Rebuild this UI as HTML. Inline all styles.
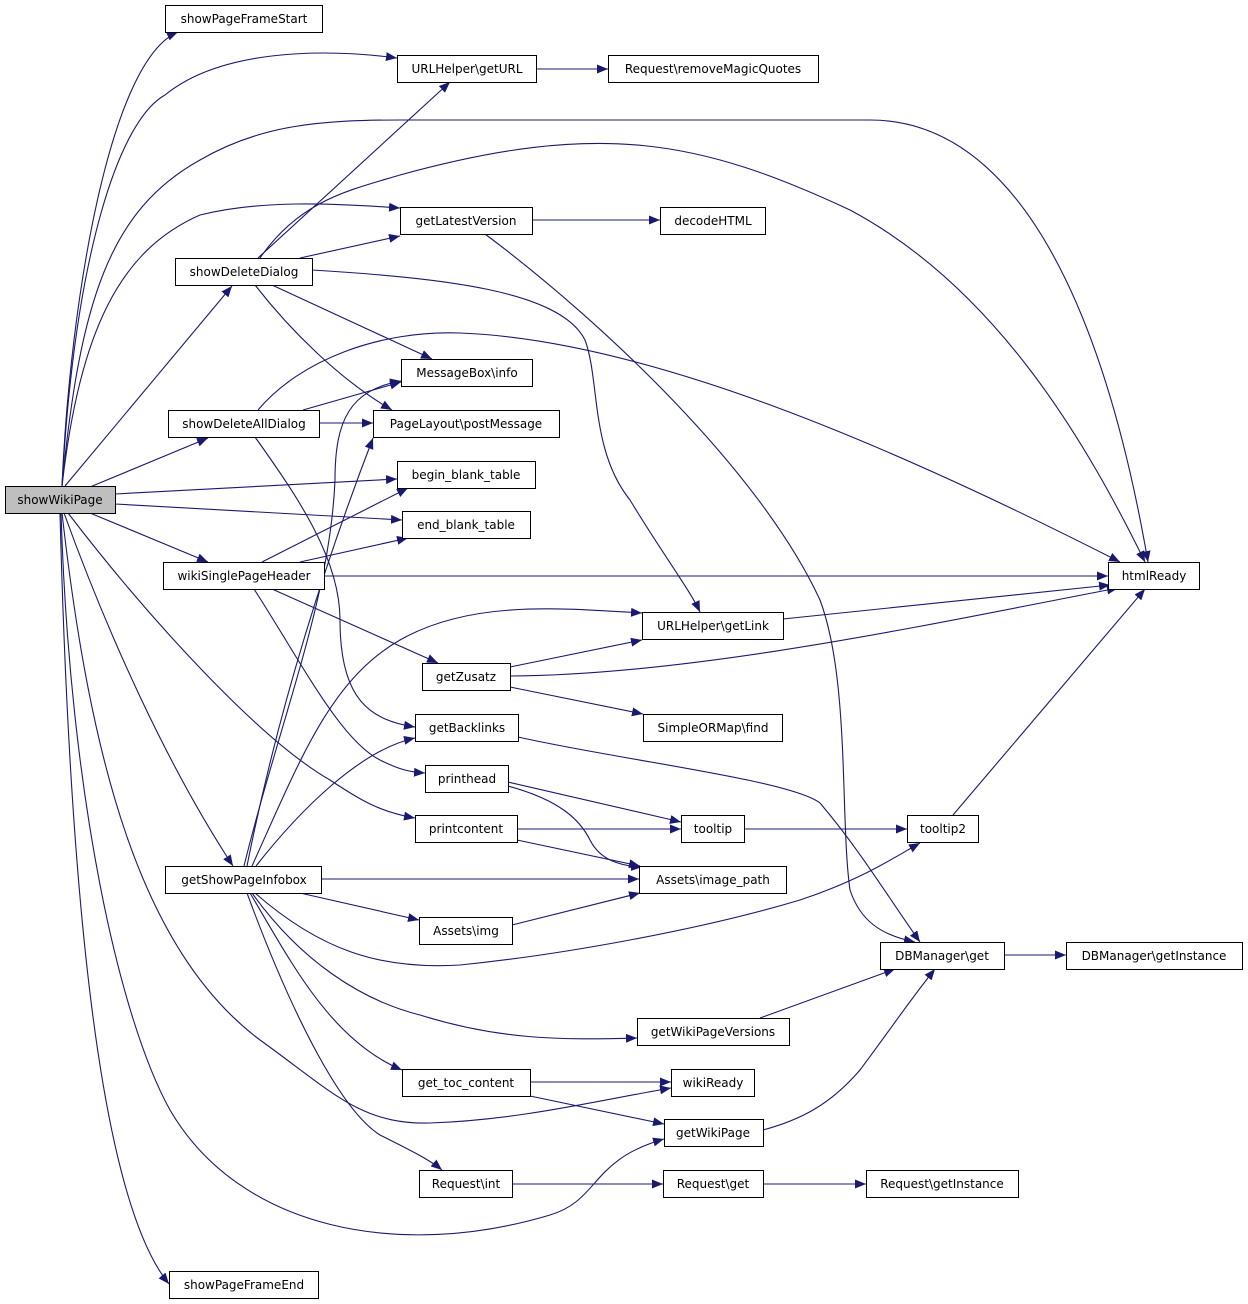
<!DOCTYPE html>
<html><head><meta charset="utf-8"><style>
html,body{margin:0;padding:0;background:#fff;}
svg{display:block;}
text{font-family:"DejaVu Sans","Liberation Sans",sans-serif;font-size:12px;fill:#000;}
.e{fill:none;stroke:#191970;stroke-width:1.1;marker-end:url(#a);}
.n{fill:#fff;stroke:#000;stroke-width:1;}
</style></head><body>
<svg width="1248" height="1304" viewBox="0 0 1248 1304" xmlns="http://www.w3.org/2000/svg">
<defs><marker id="a" markerUnits="userSpaceOnUse" markerWidth="12" markerHeight="9" refX="11" refY="4.5" orient="auto"><polygon points="0,0 11,4.5 0,9" fill="#191970"/></marker></defs>
<g>
<path class="e" d="M62,486 C70,300 110,60 178,32"/>
<path class="e" d="M62,486 C75,250 120,120 165,95 C220,50 320,48 397,58"/>
<path class="e" d="M62,486 C80,300 110,210 200,160 C260,125 320,120 400,120 L870,120 C1050,120 1120,400 1148,562"/>
<path class="e" d="M62,486 C80,330 120,250 200,215 C260,200 330,203 400,208"/>
<path class="e" d="M65,486 L232,286"/>
<path class="e" d="M90,487 L208,438"/>
<path class="e" d="M115,494 L397,479"/>
<path class="e" d="M115,504 L402,520"/>
<path class="e" d="M90,513 L208,562"/>
<path class="e" d="M68,513 C150,620 260,740 330,780 C360,800 380,812 415,818"/>
<path class="e" d="M64,513 C110,640 170,770 233,866"/>
<path class="e" d="M62,513 C90,760 140,950 260,1040 C330,1090 360,1125 430,1123 C520,1120 600,1100 671,1088"/>
<path class="e" d="M61,513 C70,800 120,1020 170,1110 C240,1230 400,1260 550,1215 C600,1200 590,1160 664,1139"/>
<path class="e" d="M60,513 C70,900 100,1200 169,1284"/>
<path class="e" d="M258,258 L450,82"/>
<path class="e" d="M300,258 L400,236"/>
<path class="e" d="M260,258 C300,200 350,190 400,175 C600,120 700,140 850,210 C1000,290 1090,450 1145,562"/>
<path class="e" d="M272,285 L432,359"/>
<path class="e" d="M255,285 C290,330 340,380 392,410"/>
<path class="e" d="M312,270 C440,278 560,290 585,340 C600,380 590,450 630,500 C660,550 690,590 700,612"/>
<path class="e" d="M303,410 L401,382"/>
<path class="e" d="M319,423 L373,423"/>
<path class="e" d="M255,437 C300,500 340,560 340,620 C340,700 370,720 415,727"/>
<path class="e" d="M258,410 C300,360 380,330 460,333 C650,340 900,450 1120,562"/>
<path class="e" d="M532,220 L660,220"/>
<path class="e" d="M485,234 C600,320 760,470 820,600 C850,680 840,820 850,890 C860,920 880,935 915,942"/>
<path class="e" d="M262,562 L408,488"/>
<path class="e" d="M300,562 L408,538"/>
<path class="e" d="M324,576 L1108,576"/>
<path class="e" d="M272,589 L438,663"/>
<path class="e" d="M254,589 C300,660 340,740 380,760 C400,770 410,772 425,773"/>
<path class="e" d="M510,667 L642,640"/>
<path class="e" d="M510,676 C700,675 950,620 1118,588"/>
<path class="e" d="M510,687 L643,714"/>
<path class="e" d="M783,619 L1110,585"/>
<path class="e" d="M518,737 C620,760 790,780 820,803 C860,850 890,900 920,942"/>
<path class="e" d="M508,782 L681,822"/>
<path class="e" d="M508,786 C560,800 580,820 590,840 C600,860 620,866 642,867"/>
<path class="e" d="M517,829 L681,829"/>
<path class="e" d="M517,840 L640,866"/>
<path class="e" d="M744,829 L907,829"/>
<path class="e" d="M953,815 L1145,589"/>
<path class="e" d="M247,866 C280,700 330,550 373,438"/>
<path class="e" d="M244,866 C280,720 330,600 335,480 C335,420 350,390 401,381"/>
<path class="e" d="M252,866 C300,760 330,680 400,640 C470,600 560,608 642,613"/>
<path class="e" d="M256,866 C300,810 360,750 415,738"/>
<path class="e" d="M321,879 L639,879"/>
<path class="e" d="M300,893 L419,920"/>
<path class="e" d="M255,893 C320,950 380,970 460,965 C560,955 700,930 800,900 C860,880 890,860 920,843"/>
<path class="e" d="M252,893 C300,960 360,1000 420,1015 C500,1040 560,1040 637,1038"/>
<path class="e" d="M250,893 C290,960 330,1040 402,1070"/>
<path class="e" d="M247,893 C290,1010 340,1110 380,1135 C410,1150 430,1160 442,1170"/>
<path class="e" d="M512,925 L640,893"/>
<path class="e" d="M1004,955 L1066,955"/>
<path class="e" d="M760,1018 L895,969"/>
<path class="e" d="M530,1082 L671,1082"/>
<path class="e" d="M530,1096 L664,1124"/>
<path class="e" d="M763,1130 C800,1120 830,1105 860,1070 C890,1030 910,1000 935,969"/>
<path class="e" d="M512,1184 L663,1184"/>
<path class="e" d="M763,1184 L866,1184"/>
<path class="e" d="M536,69 L608,69"/>
</g>
<g text-anchor="middle">
<rect x="5.5" y="486.5" width="110" height="27" fill="#bfbfbf" stroke="#000"/><text x="60" y="504">showWikiPage</text>
<rect class="n" x="165.5" y="5.5" width="157" height="27"/><text x="244" y="23">showPageFrameStart</text>
<rect class="n" x="397.5" y="55.5" width="139" height="27"/><text x="467" y="73">URLHelper\getURL</text>
<rect class="n" x="608.5" y="55.5" width="210" height="27"/><text x="713" y="73">Request\removeMagicQuotes</text>
<rect class="n" x="400.5" y="207.5" width="132" height="27"/><text x="466" y="225">getLatestVersion</text>
<rect class="n" x="660.5" y="207.5" width="105" height="27"/><text x="713" y="225">decodeHTML</text>
<rect class="n" x="175.5" y="258.5" width="137" height="27"/><text x="244" y="276">showDeleteDialog</text>
<rect class="n" x="401.5" y="359.5" width="131" height="27"/><text x="467" y="377">MessageBox\info</text>
<rect class="n" x="168.5" y="410.5" width="151" height="27"/><text x="244" y="428">showDeleteAllDialog</text>
<rect class="n" x="373.5" y="410.5" width="186" height="27"/><text x="466" y="428">PageLayout\postMessage</text>
<rect class="n" x="397.5" y="461.5" width="138" height="27"/><text x="466" y="479">begin_blank_table</text>
<rect class="n" x="402.5" y="511.5" width="128" height="27"/><text x="466" y="529">end_blank_table</text>
<rect class="n" x="163.5" y="562.5" width="161" height="27"/><text x="244" y="580">wikiSinglePageHeader</text>
<rect class="n" x="1108.5" y="562.5" width="91" height="27"/><text x="1154" y="580">htmlReady</text>
<rect class="n" x="642.5" y="612.5" width="141" height="27"/><text x="713" y="630">URLHelper\getLink</text>
<rect class="n" x="422.5" y="663.5" width="88" height="27"/><text x="466" y="681">getZusatz</text>
<rect class="n" x="415.5" y="714.5" width="103" height="27"/><text x="467" y="732">getBacklinks</text>
<rect class="n" x="643.5" y="714.5" width="139" height="27"/><text x="713" y="732">SimpleORMap\find</text>
<rect class="n" x="425.5" y="765.5" width="83" height="27"/><text x="467" y="783">printhead</text>
<rect class="n" x="415.5" y="815.5" width="102" height="27"/><text x="466" y="833">printcontent</text>
<rect class="n" x="681.5" y="815.5" width="63" height="27"/><text x="713" y="833">tooltip</text>
<rect class="n" x="907.5" y="815.5" width="71" height="27"/><text x="943" y="833">tooltip2</text>
<rect class="n" x="165.5" y="866.5" width="156" height="27"/><text x="244" y="884">getShowPageInfobox</text>
<rect class="n" x="639.5" y="866.5" width="147" height="27"/><text x="713" y="884">Assets\image_path</text>
<rect class="n" x="419.5" y="917.5" width="93" height="27"/><text x="466" y="935">Assets\img</text>
<rect class="n" x="880.5" y="942.5" width="124" height="27"/><text x="942" y="960">DBManager\get</text>
<rect class="n" x="1066.5" y="942.5" width="176" height="27"/><text x="1154" y="960">DBManager\getInstance</text>
<rect class="n" x="637.5" y="1018.5" width="152" height="27"/><text x="713" y="1036">getWikiPageVersions</text>
<rect class="n" x="402.5" y="1069.5" width="128" height="27"/><text x="466" y="1087">get_toc_content</text>
<rect class="n" x="671.5" y="1069.5" width="83" height="27"/><text x="713" y="1087">wikiReady</text>
<rect class="n" x="664.5" y="1119.5" width="99" height="27"/><text x="713" y="1137">getWikiPage</text>
<rect class="n" x="419.5" y="1170.5" width="93" height="27"/><text x="466" y="1188">Request\int</text>
<rect class="n" x="663.5" y="1170.5" width="100" height="27"/><text x="713" y="1188">Request\get</text>
<rect class="n" x="866.5" y="1170.5" width="152" height="27"/><text x="942" y="1188">Request\getInstance</text>
<rect class="n" x="169.5" y="1271.5" width="149" height="27"/><text x="244" y="1289">showPageFrameEnd</text>
</g>
</svg>
</body></html>
